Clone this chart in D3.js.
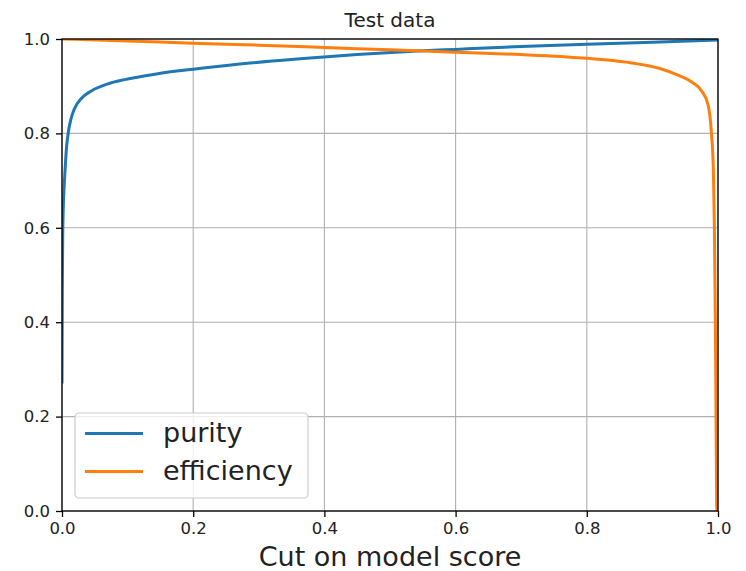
<!DOCTYPE html>
<html><head><meta charset="utf-8">
<script src="https://cdn.jsdelivr.net/npm/d3@7"></script>
<style>body{margin:0;background:#fff}svg{display:block}text{font-family:"DejaVu Sans",sans-serif;fill:#222}</style>
</head><body><svg id="c" width="746" height="571"></svg>
<script>
const xTicks = [0, 0.2, 0.4, 0.6, 0.8, 1.0];
const yTicks = [0, 0.2, 0.4, 0.6, 0.8, 1.0];
const tickLabels = ["0.0", "0.2", "0.4", "0.6", "0.8", "1.0"];
const purityX = [0, 0.0005, 0.001, 0.002, 0.003, 0.0046, 0.0066, 0.0091, 0.0132, 0.0193, 0.0295, 0.0447, 0.070, 0.0955, 0.144, 0.2, 0.271, 0.363, 0.45, 0.535, 0.6, 0.7, 0.8, 0.9, 1.0];
const purityY = [0.27, 0.47, 0.57, 0.645, 0.68, 0.72, 0.765, 0.797, 0.828, 0.853, 0.874, 0.890, 0.905, 0.914, 0.926, 0.936, 0.947, 0.958, 0.967, 0.974, 0.978, 0.984, 0.989, 0.993, 0.998];
const effX = [0, 0.1, 0.2, 0.3, 0.4, 0.5, 0.6, 0.7, 0.76, 0.8, 0.86, 0.91, 0.94, 0.96, 0.975, 0.985, 0.990, 0.993, 0.9945, 0.996, 0.997, 0.998, 0.9985];
const effY = [1.0, 0.996, 0.991, 0.987, 0.982, 0.977, 0.972, 0.967, 0.963, 0.959, 0.951, 0.938, 0.923, 0.909, 0.890, 0.860, 0.80, 0.72, 0.60, 0.40, 0.20, 0.01, 0.0];
const seriesNames = ["purity", "efficiency"];
const colors = ["#1f77b4", "#ff7f0e"];

const svg = d3.select("#c");
const L = 62, R = 718, T = 39, B = 511;
const x = d3.scaleLinear().domain([0, 1]).range([L, R]);
const y = d3.scaleLinear().domain([0, 1]).range([B, T]);

// grid
const g = svg.append("g");
g.selectAll(".gx").data(xTicks).enter().append("line")
  .attr("x1", d => x(d)).attr("x2", d => x(d)).attr("y1", T).attr("y2", B)
  .attr("stroke", "#b0b0b0").attr("stroke-width", 1.1);
g.selectAll(".gy").data(yTicks).enter().append("line")
  .attr("y1", d => y(d)).attr("y2", d => y(d)).attr("x1", L).attr("x2", R)
  .attr("stroke", "#b0b0b0").attr("stroke-width", 1.1);

svg.append("clipPath").attr("id", "clip").append("rect")
  .attr("x", L).attr("y", T).attr("width", R - L).attr("height", B - T);

const line = d3.line().x(d => x(d[0])).y(d => y(d[1])).curve(d3.curveMonotoneX);
const series = [d3.zip(purityX, purityY), d3.zip(effX, effY)];
svg.append("g").attr("clip-path", "url(#clip)").selectAll("path").data(series).enter().append("path")
  .attr("d", line).attr("fill", "none").attr("stroke", (d, i) => colors[i])
  .attr("stroke-width", 3).attr("stroke-linejoin", "round").attr("stroke-linecap", "butt");

// axes
const xAxis = svg.append("g").attr("transform", `translate(0,${B})`)
  .call(d3.axisBottom(x).tickValues(xTicks).tickFormat((d, i) => tickLabels[i]).tickSize(6).tickPadding(5));
const yAxis = svg.append("g").attr("transform", `translate(${L},0)`)
  .call(d3.axisLeft(y).tickValues(yTicks).tickFormat((d, i) => tickLabels[i]).tickSize(6).tickPadding(6));
[xAxis, yAxis].forEach(a => {
  a.select(".domain").remove();
  a.selectAll(".tick line").attr("stroke", "#000").attr("stroke-width", 1.3);
  a.selectAll(".tick text").attr("font-size", "16.5px").attr("fill", "#222")
    .attr("font-family", '"DejaVu Sans",sans-serif');
});
svg.append("rect").attr("x", L).attr("y", T).attr("width", R - L).attr("height", B - T)
  .attr("fill", "none").attr("stroke", "#000").attr("stroke-width", 1.3);

svg.append("text").attr("x", (L + R) / 2).attr("y", 26.5).attr("text-anchor", "middle")
  .attr("font-size", "20px").text("Test data");
svg.append("text").attr("x", (L + R) / 2).attr("y", 565.5).attr("text-anchor", "middle")
  .attr("font-size", "27px").text("Cut on model score");

// legend
const lg = svg.append("g");
lg.append("rect").attr("x", 75).attr("y", 413).attr("width", 233).attr("height", 85)
  .attr("rx", 4).attr("fill", "#fff").attr("fill-opacity", 0.8).attr("stroke", "#cccccc").attr("stroke-width", 1.2);
const rows = [433.5, 471.5];
seriesNames.forEach((n, i) => {
  lg.append("line").attr("x1", 85).attr("x2", 143).attr("y1", rows[i]).attr("y2", rows[i])
    .attr("stroke", colors[i]).attr("stroke-width", 3);
  lg.append("text").attr("x", 163).attr("y", rows[i] + 8.5).attr("font-size", "27px").text(n);
});
</script></body></html>
